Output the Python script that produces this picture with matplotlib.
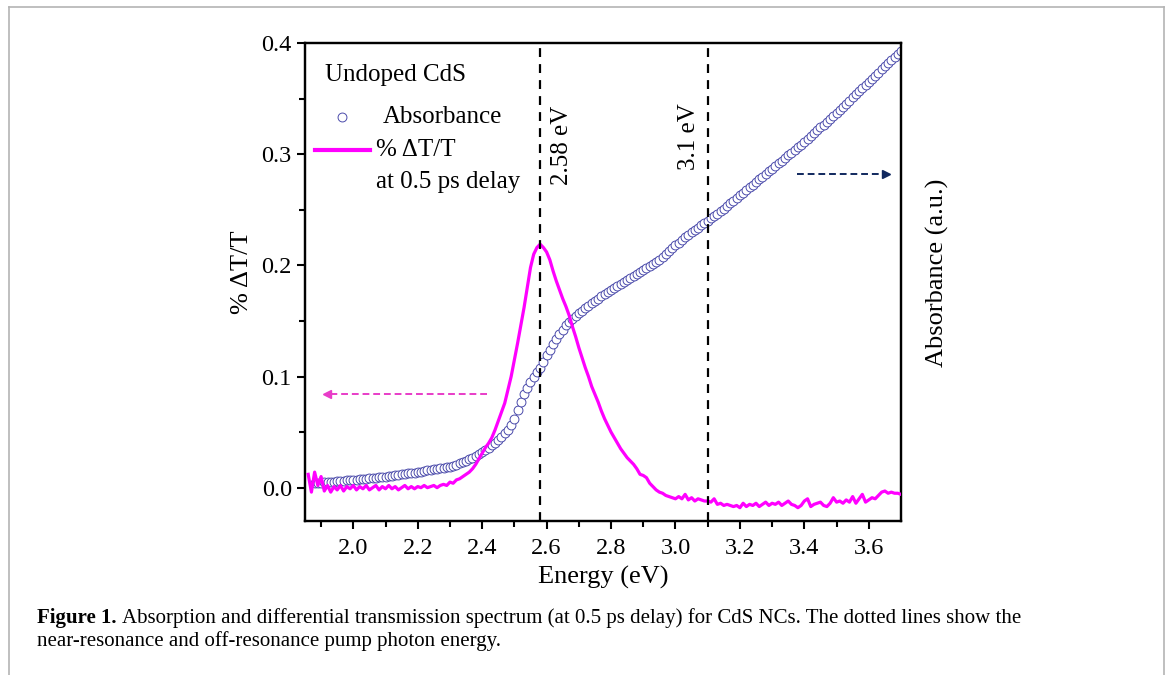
import numpy as np
import matplotlib
matplotlib.use("Agg")
import matplotlib.pyplot as plt
from matplotlib.lines import Line2D

plt.rcParams['font.family'] = ['Liberation Serif', 'DejaVu Serif']

# absorbance (drawn in left-axis units), 0.01 eV grid from 1.88 to 3.70 eV
abs_energy = np.round(np.arange(1.88, 3.7001, 0.01), 2)
absorbance = [
    .0040, .0042, .0045, .0047, .0050, .0052, .0055, .0057, .0060, .0062,
    .0065, .0067, .0070, .0073, .0076, .0079, .0082, .0085, .0088, .0091,
    .0094, .0097, .0100, .0104, .0108, .0112, .0116, .0120, .0124, .0128,
    .0132, .0136, .0140, .0145, .0150, .0155, .0160, .0165, .0170, .0175,
    .0180, .0185, .0190, .0199, .0208, .0218, .0229, .0240, .0254, .0268,
    .0284, .0301, .0320, .0340, .0361, .0383, .0406, .0430, .0458, .0488,
    .0520, .0565, .0620, .0695, .0775, .0840, .0900, .0950, .0995, .1038,
    .1080, .1135, .1190, .1240, .1290, .1335, .1380, .1420, .1460, .1490,
    .1520, .1545, .1570, .1593, .1615, .1637, .1658, .1680, .1700, .1720,
    .1740, .1760, .1780, .1798, .1816, .1834, .1852, .1870, .1888, .1906,
    .1924, .1942, .1960, .1978, .1996, .2014, .2032, .2050, .2076, .2102,
    .2128, .2154, .2180, .2204, .2228, .2252, .2276, .2300, .2320, .2340,
    .2360, .2380, .2400, .2422, .2444, .2466, .2488, .2510, .2534, .2558,
    .2582, .2606, .2630, .2654, .2678, .2702, .2726, .2750, .2774, .2798,
    .2822, .2846, .2870, .2894, .2918, .2942, .2966, .2990, .3014, .3038,
    .3062, .3086, .3110, .3136, .3162, .3188, .3214, .3240, .3266, .3292,
    .3318, .3344, .3370, .3398, .3426, .3454, .3482, .3510, .3538, .3566,
    .3594, .3622, .3650, .3678, .3706, .3734, .3762, .3790, .3818, .3846,
    .3874, .3902, .3930,
]

# % dT/T at 0.5 ps delay, 0.01 eV grid from 1.86 to 3.70 eV
dtt_energy = np.round(np.arange(1.86, 3.7001, 0.01), 2)
dtt = [
    0.012, -0.004, 0.014, 0.002, 0.010, -0.003, 0.002, -0.004, 0.001, -0.002,
    0.002, -0.003, 0.001, -0.001, 0.002, -0.002, 0.001, -0.001, 0.002, -0.002,
    0.000, 0.002, -0.002, 0.001, -0.001, 0.002, -0.001, 0.001, -0.002, 0.000,
    0.002, -0.001, 0.001, -0.001, 0.001, 0.000, 0.002, 0.000, 0.001, 0.002,
    0.000, 0.002, 0.003, 0.002, 0.005, 0.004, 0.007, 0.008, 0.010, 0.012,
    0.014, 0.017, 0.021, 0.026, 0.031, 0.036, 0.040, 0.045, 0.052, 0.060,
    0.068, 0.076, 0.088, 0.100, 0.115, 0.130, 0.146, 0.162, 0.180, 0.198,
    0.210, 0.216, 0.219, 0.216, 0.212, 0.205, 0.195, 0.186, 0.178, 0.170,
    0.163, 0.155, 0.145, 0.136, 0.126, 0.117, 0.108, 0.100, 0.091, 0.084,
    0.077, 0.069, 0.062, 0.056, 0.050, 0.045, 0.040, 0.035, 0.031, 0.027,
    0.024, 0.021, 0.017, 0.012, 0.011, 0.009, 0.004, 0.001, -0.002, -0.004,
    -0.005, -0.007, -0.008, -0.009, -0.010, -0.008, -0.010, -0.006, -0.011, -0.009,
    -0.012, -0.010, -0.011, -0.012, -0.012, -0.013, -0.010, -0.015, -0.014, -0.016,
    -0.015, -0.016, -0.017, -0.016, -0.018, -0.014, -0.017, -0.015, -0.016, -0.014,
    -0.017, -0.015, -0.013, -0.016, -0.014, -0.015, -0.013, -0.016, -0.014, -0.012,
    -0.015, -0.016, -0.018, -0.016, -0.012, -0.010, -0.017, -0.015, -0.014, -0.013,
    -0.016, -0.017, -0.014, -0.009, -0.013, -0.012, -0.014, -0.011, -0.013, -0.008,
    -0.014, -0.010, -0.006, -0.013, -0.011, -0.009, -0.010, -0.007, -0.004, -0.003,
    -0.005, -0.004, -0.005, -0.005, -0.006,
]

pump_energies = [2.58, 3.1]
pump_labels = ['2.58 eV', '3.1 eV']

xticks = [2.0, 2.2, 2.4, 2.6, 2.8, 3.0, 3.2, 3.4, 3.6]
yticks = [0.0, 0.1, 0.2, 0.3, 0.4]

circ = dict(ls='none', marker='o', ms=6.4, mfc='white', mec='#4b4bab', mew=0.7)

fig = plt.figure(figsize=(11.68, 6.75), dpi=100)
ax = fig.add_axes([0.2611, 0.2281, 0.5103, 0.7082])
ax2 = ax.twinx()
ax.set_zorder(ax2.get_zorder() + 1)
ax.patch.set_visible(False)

ax2.plot(abs_energy, absorbance, **circ)
ax.plot(dtt_energy, dtt, color='#ff00ff', lw=2.3, zorder=3)

for e in pump_energies:
    ax.axvline(e, color='black', ls=(0, (4, 3.2)), lw=1.6, zorder=4)

ax.text(2.649, 0.308, pump_labels[0], rotation=90, ha='center', va='center', fontsize=18)
ax.text(3.041, 0.316, pump_labels[1], rotation=90, ha='center', va='center', fontsize=18)
ax.text(1.912, 0.371, 'Undoped CdS', ha='left', va='center', fontsize=18)

# legend drawn by hand
ax.plot([0.0625], [0.846], transform=ax.transAxes, **circ)
ax.text(0.13, 0.846, 'Absorbance', transform=ax.transAxes, ha='left', va='center', fontsize=18)
ax.plot([0.017, 0.109], [0.777, 0.777], color='#ff00ff', lw=3, transform=ax.transAxes)
ax.text(0.12, 0.777, '% \u0394T/T', transform=ax.transAxes, ha='left', va='center', fontsize=18)
ax.text(0.12, 0.71, 'at 0.5 ps delay', transform=ax.transAxes, ha='left', va='center', fontsize=18)

# direction arrows
ax.plot([2.414, 1.93], [0.084, 0.084], color='#e83cc8', ls=(0, (3.5, 2)), lw=1.4)
ax.plot([1.918], [0.084], marker='<', color='#e83cc8', ms=6)
ax.plot([3.376, 3.64], [0.282, 0.282], color='#10285e', ls=(0, (3.5, 2)), lw=1.4)
ax.plot([3.652], [0.282], marker='>', color='#10285e', ms=6)

for a in (ax, ax2):
    a.set_xlim(1.85, 3.7)
    a.set_ylim(-0.03, 0.4)
ax2.set_yticks([])

ax.set_xticks(xticks)
ax.set_xticks(np.round(np.arange(1.9, 3.7, 0.2), 1), minor=True)
ax.set_yticks(yticks)
ax.set_yticks([0.05, 0.15, 0.25, 0.35], minor=True)
ax.set_xticklabels([f'{t:.1f}' for t in xticks])
ax.set_yticklabels([f'{t:.1f}' for t in yticks])
ax.tick_params(which='both', direction='out', width=1.5, labelsize=17.5, right=False, top=False)
ax.tick_params(which='major', length=6)
ax.tick_params(which='minor', length=4)
ax.tick_params(axis='x', pad=6)
for a in (ax, ax2):
    for s in a.spines.values():
        s.set_linewidth(1.6)

ax.set_xlabel('Energy (eV)', fontsize=19)
ax.set_ylabel('% \u0394T/T', fontsize=19)
ax2.set_ylabel('Absorbance (a.u.)', fontsize=19)
ax.xaxis.set_label_coords(0.5, -0.094)
ax.yaxis.set_label_coords(-0.087, 0.52)
ax2.yaxis.set_label_coords(1.042, 0.52)

# page frame
frame = '#b4b4b4'
fig.add_artist(Line2D([9/1168, 1164/1168], [1-6.5/675, 1-6.5/675], color=frame, lw=1.2, transform=fig.transFigure))
fig.add_artist(Line2D([9/1168, 9/1168], [0, 1-6.5/675], color=frame, lw=1.2, transform=fig.transFigure))
fig.add_artist(Line2D([1164/1168, 1164/1168], [0, 1-6.5/675], color=frame, lw=1.2, transform=fig.transFigure))

# caption
cap_size = 15
b = fig.text(37/1168, 1-618/675, 'Figure 1.', fontsize=cap_size, fontweight='bold', va='center')
fig.canvas.draw()
bb = b.get_window_extent()
fig.text((bb.x1 + 5)/1168, 1-618/675,
         'Absorption and differential transmission spectrum (at 0.5 ps delay) for CdS NCs. The dotted lines show the',
         fontsize=cap_size, va='center')
fig.text(37/1168, 1-641/675, 'near-resonance and off-resonance pump photon energy.', fontsize=cap_size, va='center')

fig.savefig('out.png', dpi=100)
